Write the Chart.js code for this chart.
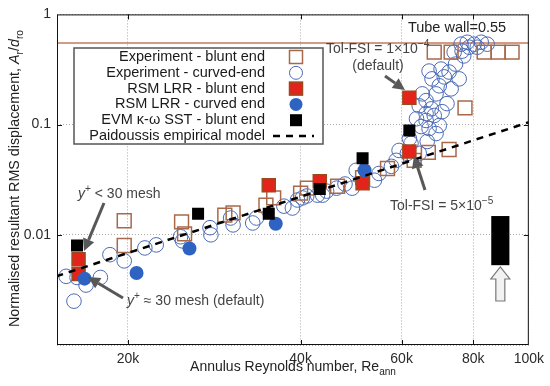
<!DOCTYPE html>
<html>
<head>
<meta charset="utf-8">
<script src="https://cdn.jsdelivr.net/npm/chart.js@4.4.1/dist/chart.umd.min.js"></script>
<style>
html, body { margin: 0; padding: 0; background: #fff; }
</style>
</head>
<body>
<canvas id="reChart" width="550" height="386"></canvas>
<script>
// values (Re_ann, A_r/d_ro)
const expBluntRe = [19700, 19700, 24800, 25100, 29500, 30500, 34800, 35900, 40000, 41100, 46400, 51300,
    56700, 63100, 66800, 72600, 77400, 68400, 73200, 83600, 88400, 93500];
const expBluntAmp = [0.0134, 0.0080, 0.0131, 0.0102, 0.0151, 0.0158, 0.0186, 0.0216, 0.0239, 0.0265, 0.0276, 0.033,
    0.040, 0.0474, 0.056, 0.0595, 0.142, 0.455, 0.455, 0.455, 0.455, 0.455];

const expCurvedRe = [15600, 16300, 16900, 17900, 16100, 18600, 19700, 21400, 22400, 24700, 24900, 27800, 27900,
    30200, 30500, 33000, 33500, 37400, 38700, 39500, 40300, 41000, 42800, 43700, 44400, 46200, 47800, 49200,
    50000, 53800, 54800, 57600, 58700, 61400, 64400, 59400, 61900, 62300, 64900, 66200, 67600, 66200, 65200,
    68900, 67800, 67000, 70300, 71200, 72600, 75600, 69800, 66500, 69800, 68400, 70600, 66200, 64400, 68900,
    67000, 63700, 72000, 73200, 74500, 77000, 74100, 76200, 78100, 80300, 82600, 84600, 81300, 78700, 76500];
const expCurvedAmp = [0.0042, 0.0041, 0.0035, 0.0041, 0.0025, 0.0066, 0.0058, 0.0076, 0.0081, 0.0096, 0.0088, 0.0116, 0.0100,
    0.0142, 0.0123, 0.0128, 0.0142, 0.0182, 0.0175, 0.0207, 0.0216, 0.0225, 0.0229, 0.0229, 0.0249, 0.0265, 0.0289, 0.0265,
    0.0385, 0.0313, 0.036, 0.0418, 0.0474, 0.0548, 0.0548, 0.0583, 0.0748, 0.0675, 0.096, 0.109, 0.139, 0.165, 0.190,
    0.190, 0.260, 0.306, 0.319, 0.271, 0.300, 0.260, 0.225, 0.0703, 0.098, 0.121, 0.131, 0.126, 0.148, 0.083,
    0.092, 0.113, 0.155, 0.211, 0.354, 0.42, 0.455, 0.537, 0.559, 0.537, 0.559, 0.537, 0.504, 0.504, 0.464];

const rsmBluntRe = [16400, 16400, 35200, 43200, 51300, 61900, 61900];
const rsmBluntAmp = [0.0060, 0.0044, 0.0282, 0.0306, 0.0294, 0.0571, 0.175];

const rsmCurvedRe = [16800, 20700, 25600, 36200, 51700];
const rsmCurvedAmp = [0.0040, 0.0045, 0.0075, 0.0126, 0.0385];

const evmRe = [16300, 26500, 35200, 43200, 51300, 61900];
const evmAmp = [0.0080, 0.0155, 0.0155, 0.026, 0.0494, 0.0883];

const modelRe = [15000, 100000];
const modelAmp = [0.0042, 0.105];

const tubeWall = 0.55;
const xTicks = [20000, 40000, 60000, 80000, 100000];
const yTicks = [0.001, 0.01, 0.1, 1];
const yTickLabels = ['', '0.01', '0.1', '1'];
// black uncertainty bar: Re from, Re to, amp from, amp to
const uncBar = [86000, 92500, 0.0053, 0.0148];

const FONT = '"Liberation Sans", Arial, sans-serif';
const BROWN = '#a8684a';
const BLUE = '#4a6ab6';
const BLUE_FILL = '#2f63c2';
const RED = '#e3241a';
const RED_EDGE = '#9a4a1e';

const toPts = (xs, ys) => xs.map((x, i) => ({x: x, y: ys[i]}));

// text with italic / sub / superscript parts
function richWidth(ctx, parts, size) {
    let w = 0;
    parts.forEach(p => {
        const s = (p[1] === 'sub' || p[1] === 'sup') ? size * 0.72 : size;
        ctx.font = (p[1] === 'i' ? 'italic ' : '') + s + 'px ' + FONT;
        w += ctx.measureText(p[0]).width;
    });
    return w;
}
function drawRich(ctx, parts, x, y, size, align) {
    let cx = x;
    if (align === 'center') cx -= richWidth(ctx, parts, size) / 2;
    if (align === 'right') cx -= richWidth(ctx, parts, size);
    ctx.textBaseline = 'alphabetic';
    ctx.textAlign = 'left';
    parts.forEach(p => {
        let s = size, dy = 0;
        if (p[1] === 'sub') { s = size * 0.72; dy = size * 0.28; }
        if (p[1] === 'sup') { s = size * 0.72; dy = -size * 0.4; }
        ctx.font = (p[1] === 'i' ? 'italic ' : '') + s + 'px ' + FONT;
        ctx.fillText(p[0], cx, y + dy);
        cx += ctx.measureText(p[0]).width;
    });
}

function arrow(ctx, x1, y1, x2, y2) {
    const a = Math.atan2(y2 - y1, x2 - x1);
    const hl = 12, hw = 6;
    ctx.save();
    ctx.strokeStyle = '#585858';
    ctx.fillStyle = '#585858';
    ctx.lineWidth = 3;
    ctx.beginPath();
    ctx.moveTo(x1, y1);
    ctx.lineTo(x2 - Math.cos(a) * hl, y2 - Math.sin(a) * hl);
    ctx.stroke();
    ctx.beginPath();
    ctx.moveTo(x2, y2);
    ctx.lineTo(x2 - Math.cos(a) * hl - Math.sin(a) * hw, y2 - Math.sin(a) * hl + Math.cos(a) * hw);
    ctx.lineTo(x2 - Math.cos(a) * hl + Math.sin(a) * hw, y2 - Math.sin(a) * hl - Math.cos(a) * hw);
    ctx.closePath();
    ctx.fill();
    ctx.restore();
}

const extras = {
    id: 'extras',
    beforeDatasetsDraw(chart) {
        const ctx = chart.ctx;
        const ys = chart.scales.y;
        const area = chart.chartArea;
        // tube wall line
        const yw = ys.getPixelForValue(tubeWall);
        ctx.save();
        ctx.strokeStyle = '#c07a60';
        ctx.lineWidth = 1.5;
        ctx.beginPath();
        ctx.moveTo(area.left, yw);
        ctx.lineTo(area.right, yw);
        ctx.stroke();
        ctx.restore();
    },
    afterDraw(chart) {
        const ctx = chart.ctx;
        const xs = chart.scales.x, ys = chart.scales.y;
        const area = chart.chartArea;
        ctx.save();

        // frame and inward ticks
        ctx.strokeStyle = '#111';
        ctx.lineWidth = 1;
        ctx.strokeRect(area.left + 0.5, area.top + 0.5, area.right - area.left - 1, area.bottom - area.top - 1);
        ctx.beginPath();
        [20000, 40000, 60000, 80000].forEach(v => {
            const px = Math.round(xs.getPixelForValue(v)) + 0.5;
            ctx.moveTo(px, area.bottom); ctx.lineTo(px, area.bottom - 5);
            ctx.moveTo(px, area.top); ctx.lineTo(px, area.top + 5);
        });
        [0.01, 0.1].forEach(v => {
            const py = Math.round(ys.getPixelForValue(v)) + 0.5;
            ctx.moveTo(area.left, py); ctx.lineTo(area.left + 5, py);
            ctx.moveTo(area.right, py); ctx.lineTo(area.right - 5, py);
        });
        ctx.stroke();

        // axis titles
        ctx.fillStyle = '#222';
        drawRich(ctx, [['Annulus Reynolds number, Re', ''], ['ann', 'sub']], 293, 371, 14, 'center');
        ctx.save();
        ctx.translate(19, 327);
        ctx.rotate(-Math.PI / 2);
        drawRich(ctx, [['Normalised resultant RMS displacement, ', ''], ['A', 'i'], ['r', 'sub'], ['/', ''],
            ['d', 'i'], ['ro', 'sub']], 0, 0, 14.3, 'left');
        ctx.restore();

        // legend
        const lx = 74, ly = 48, lw = 249, lh = 96;
        ctx.fillStyle = '#fff';
        ctx.fillRect(lx, ly, lw, lh);
        ctx.strokeStyle = '#555';
        ctx.lineWidth = 1.5;
        ctx.strokeRect(lx, ly, lw, lh);
        const rows = ['Experiment - blunt end', 'Experiment - curved-end', 'RSM LRR - blunt end',
            'RSM LRR - curved end', 'EVM \u03ba-\u03c9 SST - blunt end', 'Paidoussis empirical model'];
        ctx.font = '14.5px ' + FONT;
        ctx.textAlign = 'right';
        ctx.textBaseline = 'middle';
        const mx = 296;
        rows.forEach((t, i) => {
            const ry = 57 + i * 15.8;
            ctx.fillStyle = '#1a1a1a';
            ctx.fillText(t, 265, ry);
            ctx.lineWidth = 1.5;
            if (i === 0) {
                ctx.strokeStyle = BROWN;
                ctx.strokeRect(mx - 6.5, ry - 6.5, 13, 13);
            } else if (i === 1) {
                ctx.strokeStyle = BLUE;
                ctx.lineWidth = 1;
                ctx.beginPath(); ctx.arc(mx, ry, 6.5, 0, Math.PI * 2); ctx.stroke();
            } else if (i === 2) {
                ctx.fillStyle = RED; ctx.strokeStyle = RED_EDGE;
                ctx.fillRect(mx - 6.5, ry - 6.5, 13, 13);
                ctx.strokeRect(mx - 6.5, ry - 6.5, 13, 13);
            } else if (i === 3) {
                ctx.fillStyle = BLUE_FILL;
                ctx.beginPath(); ctx.arc(mx, ry, 6.5, 0, Math.PI * 2); ctx.fill();
            } else if (i === 4) {
                ctx.fillStyle = '#000';
                ctx.fillRect(mx - 6, ry - 6, 12, 12);
            } else {
                ctx.strokeStyle = '#000';
                ctx.lineWidth = 2.5;
                ctx.setLineDash([7, 6]);
                ctx.beginPath(); ctx.moveTo(273, ry); ctx.lineTo(314, ry); ctx.stroke();
                ctx.setLineDash([]);
            }
        });

        // annotations
        ctx.fillStyle = '#222';
        drawRich(ctx, [['Tube wall=0.55', '']], 457, 32, 14.5, 'center');
        ctx.fillStyle = '#444';
        drawRich(ctx, [['Tol-FSI = 1\u00d710', ''], ['\u22124', 'sup']], 326, 53, 14, 'left');
        drawRich(ctx, [['(default)', '']], 378, 70, 14, 'center');
        drawRich(ctx, [['Tol-FSI = 5\u00d710', ''], ['\u22125', 'sup']], 390, 210, 14, 'left');
        drawRich(ctx, [['y', 'i'], ['+', 'sup'], [' < 30 mesh', '']], 78, 198, 14, 'left');
        drawRich(ctx, [['y', 'i'], ['+', 'sup'], [' \u2248 30 mesh (default)', '']], 127, 305, 14, 'left');
        arrow(ctx, 385, 76, 405, 90);
        arrow(ctx, 425, 190, 414, 156);
        arrow(ctx, 104, 203, 84, 251);
        arrow(ctx, 123, 298, 88, 277);

        // uncertainty bar
        const bx1 = xs.getPixelForValue(uncBar[0]), bx2 = xs.getPixelForValue(uncBar[1]);
        const by1 = ys.getPixelForValue(uncBar[3]), by2 = ys.getPixelForValue(uncBar[2]);
        ctx.fillStyle = '#000';
        ctx.fillRect(bx1, by1, bx2 - bx1, by2 - by1);
        // hollow arrow under it
        const cx = (bx1 + bx2) / 2;
        ctx.fillStyle = '#f2f2f2';
        ctx.strokeStyle = '#777';
        ctx.lineWidth = 1.2;
        ctx.beginPath();
        ctx.moveTo(cx - 4.5, 301); ctx.lineTo(cx + 4.5, 301); ctx.lineTo(cx + 4.5, 279);
        ctx.lineTo(cx + 9.5, 279); ctx.lineTo(cx, 267); ctx.lineTo(cx - 9.5, 279); ctx.lineTo(cx - 4.5, 279);
        ctx.closePath();
        ctx.fill(); ctx.stroke();

        ctx.restore();
    }
};

new Chart(document.getElementById('reChart'), {
    type: 'scatter',
    data: {
        datasets: [
            {
                label: 'Paidoussis empirical model',
                type: 'line',
                data: toPts(modelRe, modelAmp),
                borderColor: '#000',
                borderWidth: 2.5,
                borderDash: [7, 6],
                pointRadius: 0,
                fill: false,
                order: 0
            },
            {
                label: 'EVM k-w SST - blunt end',
                data: toPts(evmRe, evmAmp),
                pointStyle: 'rect',
                pointRadius: 8.5,
                backgroundColor: '#000',
                borderColor: '#000',
                borderWidth: 0,
                order: 1
            },
            {
                label: 'RSM LRR - curved end',
                data: toPts(rsmCurvedRe, rsmCurvedAmp),
                pointStyle: 'circle',
                pointRadius: 7,
                backgroundColor: BLUE_FILL,
                borderColor: BLUE_FILL,
                borderWidth: 0,
                order: 2
            },
            {
                label: 'RSM LRR - blunt end',
                data: toPts(rsmBluntRe, rsmBluntAmp),
                pointStyle: 'rect',
                pointRadius: 9.2,
                backgroundColor: RED,
                borderColor: RED_EDGE,
                borderWidth: 1.5,
                order: 3
            },
            {
                label: 'Experiment - blunt end',
                data: toPts(expBluntRe, expBluntAmp),
                pointStyle: 'rect',
                pointRadius: 9.8,
                backgroundColor: 'rgba(0,0,0,0)',
                borderColor: BROWN,
                borderWidth: 1.5,
                order: 4
            },
            {
                label: 'Experiment - curved-end',
                data: toPts(expCurvedRe, expCurvedAmp),
                pointStyle: 'circle',
                pointRadius: 7.3,
                backgroundColor: 'rgba(0,0,0,0)',
                borderColor: BLUE,
                borderWidth: 1,
                order: 5
            }
        ]
    },
    options: {
        responsive: false,
        animation: false,
        events: [],
        layout: { padding: { top: 10, right: 20, left: 0, bottom: 0 } },
        plugins: {
            legend: { display: false },
            tooltip: { enabled: false }
        },
        scales: {
            x: {
                type: 'logarithmic',
                min: 15040,
                max: 100000,
                afterBuildTicks: s => { s.ticks = xTicks.map(v => ({value: v})); },
                afterFit: s => { s.height = 41; },
                ticks: {
                    callback: v => (v / 1000) + 'k',
                    maxRotation: 0,
                    autoSkip: false,
                    padding: 6,
                    color: '#2a2a2a',
                    font: { family: FONT, size: 14 }
                },
                grid: { color: '#aaa', lineWidth: 1, drawTicks: false },
                border: { display: false, dash: [1, 2] }
            },
            y: {
                type: 'logarithmic',
                min: 0.001,
                max: 1,
                afterBuildTicks: s => { s.ticks = yTicks.map(v => ({value: v})); },
                afterFit: s => { s.width = 57; },
                ticks: {
                    callback: (v, i) => yTickLabels[i],
                    autoSkip: false,
                    padding: 6,
                    color: '#2a2a2a',
                    font: { family: FONT, size: 14 }
                },
                grid: { color: '#aaa', lineWidth: 1, drawTicks: false },
                border: { display: false, dash: [1, 2] }
            }
        }
    },
    plugins: [extras]
});
</script>
</body>
</html>
